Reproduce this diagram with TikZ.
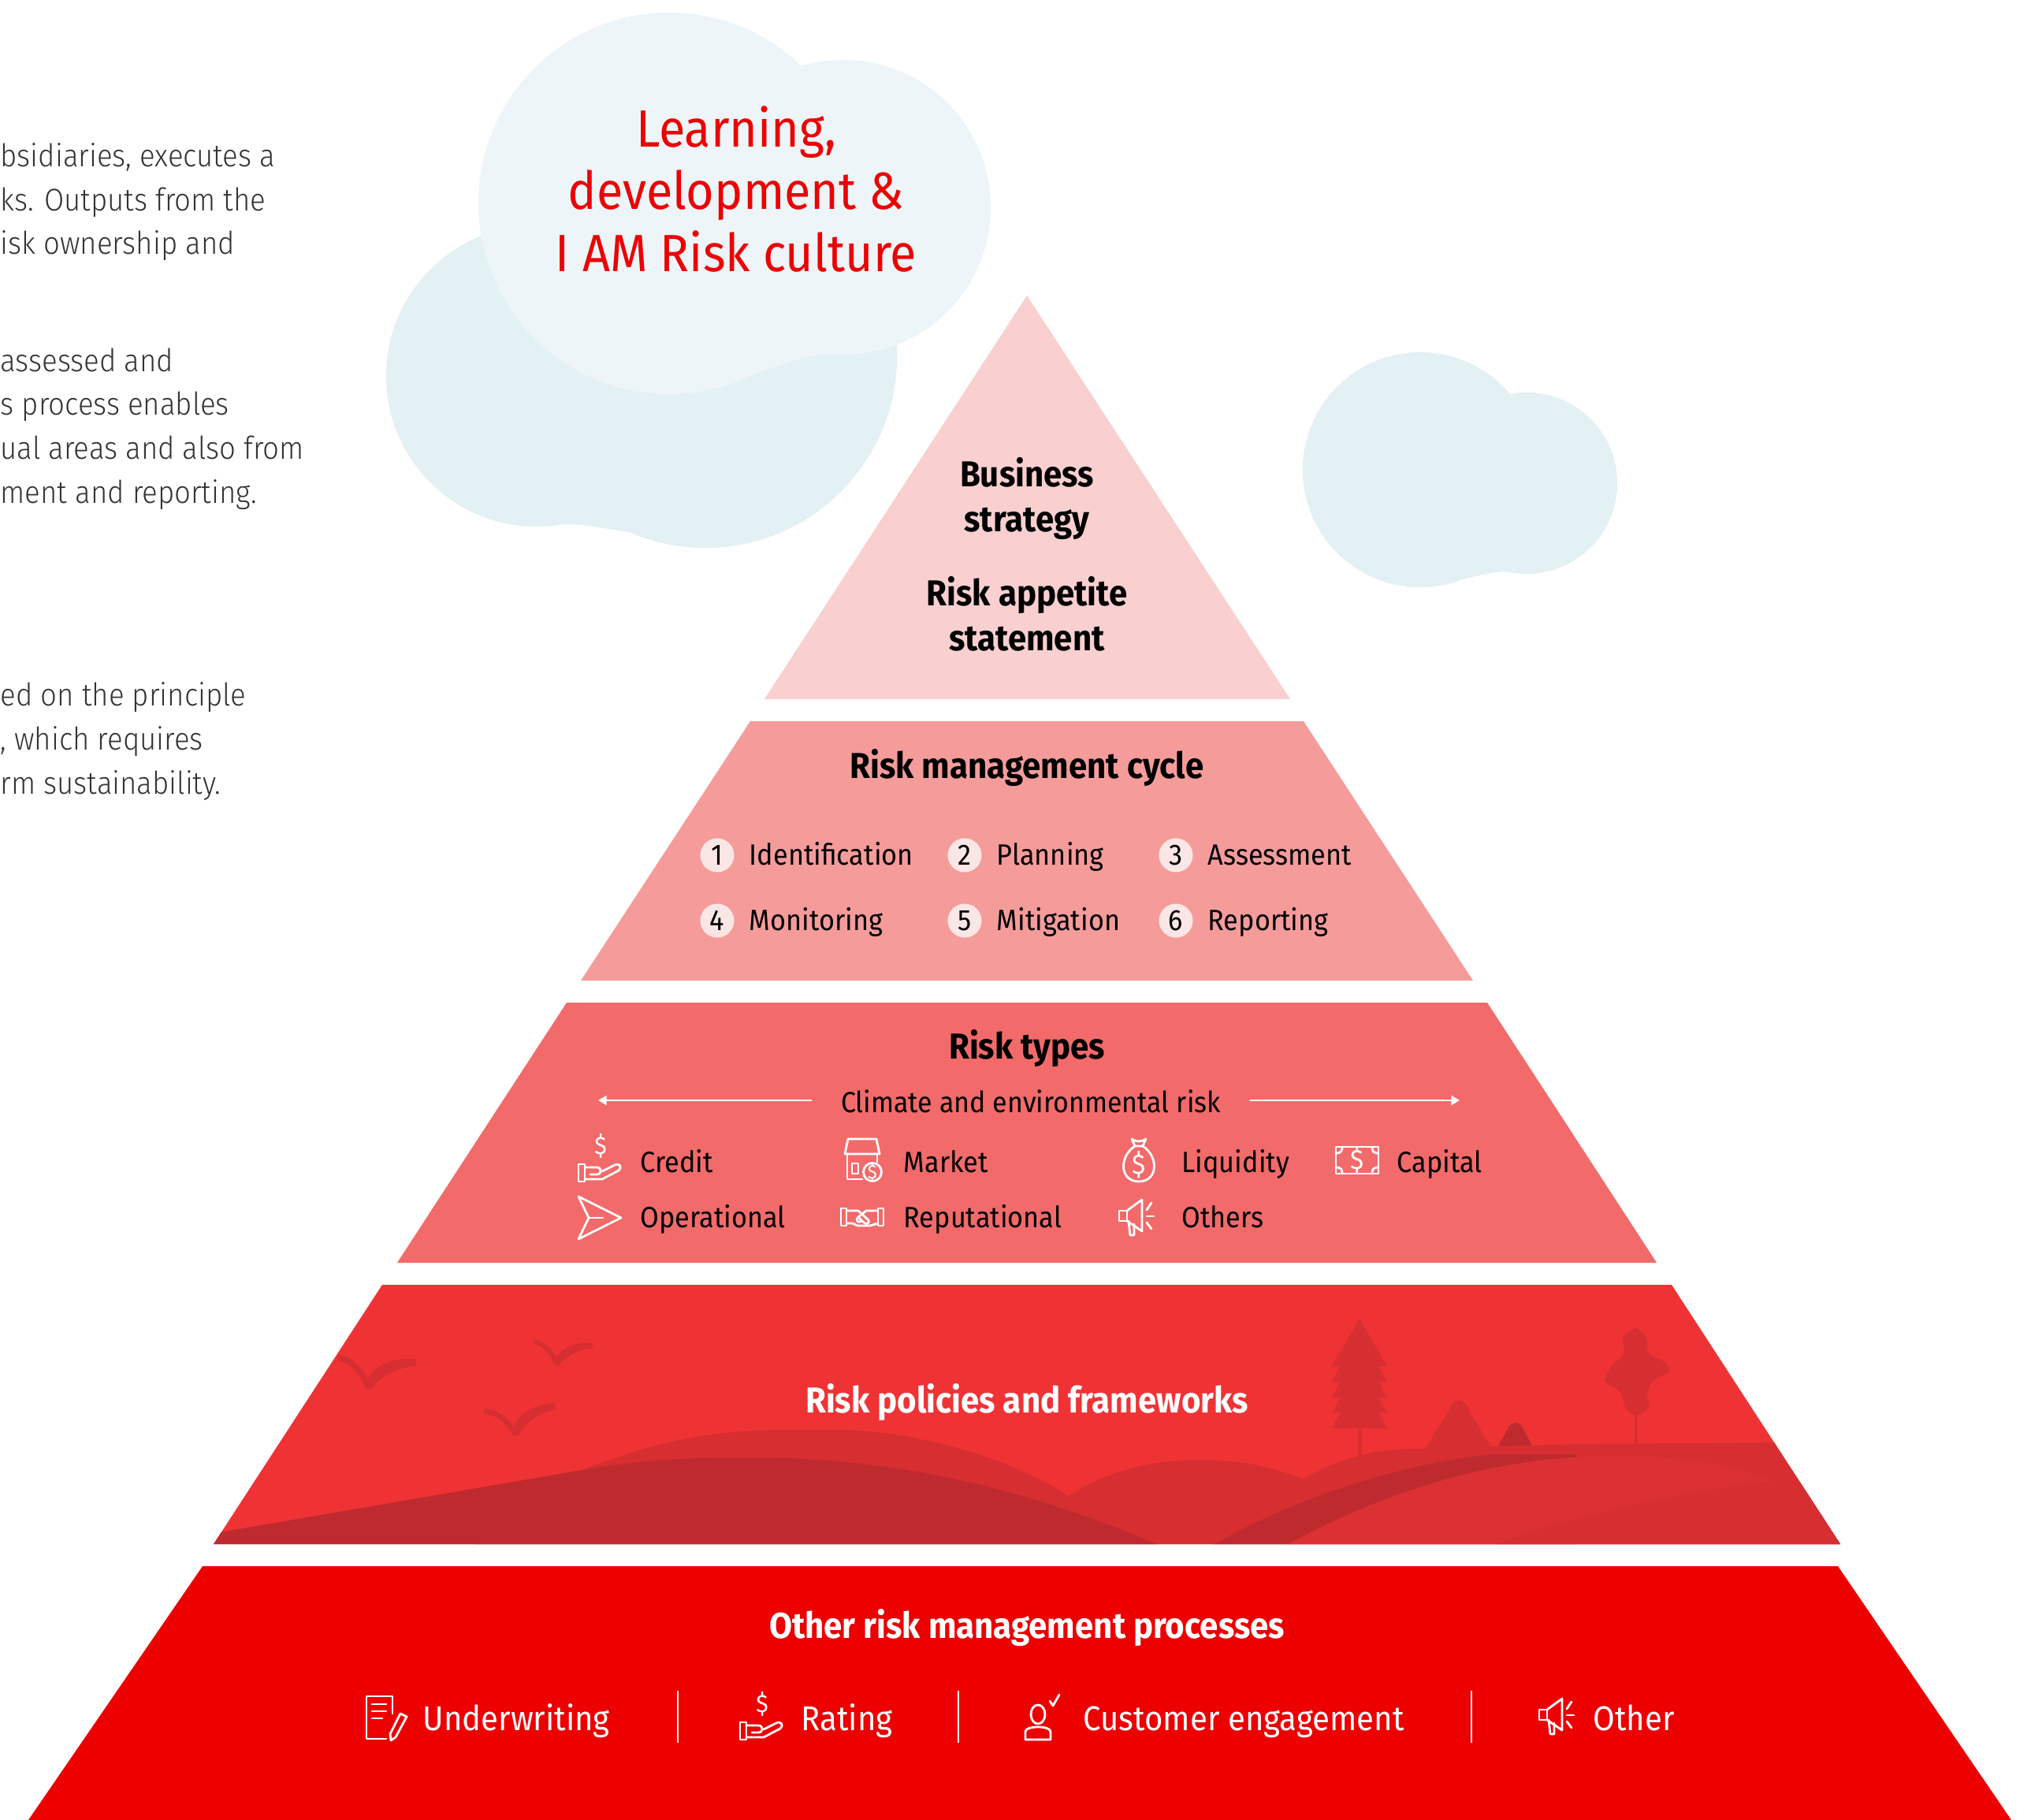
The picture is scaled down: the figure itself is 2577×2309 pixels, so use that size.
\documentclass[tikz,border=0pt]{standalone}
\usepackage{fontspec}
\setmainfont{Fira Sans}[FakeStretch=0.92]
\newfontfamily\thinfont{Fira Sans Light}[FakeStretch=0.92]
\usetikzlibrary{arrows.meta}

\definecolor{tierA}{HTML}{F9CFD0}
\definecolor{tierB}{HTML}{F59C9B}
\definecolor{tierC}{HTML}{F26A6A}
\definecolor{tierD}{HTML}{EF3335}
\definecolor{tierE}{HTML}{EC0000}
\definecolor{cloudfront}{HTML}{EDF5F9}
\definecolor{cloudback}{HTML}{E3F0F4}
\definecolor{hillmid}{HTML}{D72E31}
\definecolor{hilldark}{HTML}{BF2A2E}
\definecolor{hilllight}{HTML}{DC3134}
\definecolor{numfill}{HTML}{FBE6E6}
\definecolor{bodytext}{HTML}{333333}

\tikzset{
  head/.style={font=\fontsize{13}{16}\selectfont\bfseries, anchor=base, inner sep=0pt, align=center},
  item/.style={font=\fontsize{10.6}{12}\selectfont, anchor=base west, inner sep=0pt},
  proc/.style={font=\fontsize{12.4}{14}\selectfont, anchor=base west, inner sep=0pt, text=white},
  num/.style={circle, fill=numfill, minimum size=0.43cm, inner sep=0pt, font=\fontsize{10.6}{12}\selectfont},
  para/.style={font=\thinfont\fontsize{11.3}{15.8}\selectfont, anchor=base west, inner sep=0pt, align=left, text=bodytext},
  icon/.style={draw=white, line width=0.8pt, line join=round, line cap=round},
  dollar/.style={text=white, inner sep=0pt, font=\fontsize{#1}{#1}\selectfont},
  bird/.style={fill=hillmid},
  % line icons, drawn round their centre
  credit/.pic={
    \node[dollar=9] at (1,-18) {\$};
    \draw[icon] (-27,5) rectangle (-19,27);
    \draw[icon] (-19,9) -- (-4,9) .. controls (3,9) and (3,18) .. (-4,18) -- (-12,18);
    \draw[icon] (-19,24) -- (3,24) -- (24,13) .. controls (29,9) and (25,3) .. (19,6) -- (3,14);
  },
  market/.pic={
    \draw[icon] (-18,-27) -- (18,-27) -- (22,-8) -- (-22,-8) -- cycle;
    \draw[icon] (-19,-8) -- (-19,24) -- (0,24);
    \draw[icon] (19,-8) -- (19,2);
    \draw[icon] (-13,4) rectangle (-5,17);
    \draw[icon] (13,15) circle[radius=0.115cm];
    \node[dollar=7] at (13,15) {\$};
  },
  operational/.pic={
    \draw[icon] (-27,-27) -- (27,0) -- (-27,27) -- (-14,0) -- cycle;
    \draw[icon] (-14,0) -- (4,0);
  },
  reputational/.pic={
    \draw[icon] (-27,-11) rectangle (-20,11);
    \draw[icon] (20,-11) rectangle (27,11);
    \draw[icon] (-20,-8) -- (-5,-8) -- (8,4) .. controls (10,8) and (5,10) .. (2,7) -- (-4,1);
    \draw[icon] (20,-8) -- (5,-8) -- (-6,1) .. controls (-9,5) and (-4,8) .. (-1,5);
    \draw[icon] (-20,8) -- (-12,8) -- (-6,11) -- (10,11) -- (20,8);
  },
  liquidity/.pic={
    \draw[icon] (-9,-27) .. controls (-3,-23) and (3,-23) .. (9,-27) -- (5,-18) -- (-5,-18) -- cycle;
    \draw[icon] (-5,-18) .. controls (-26,-4) and (-24,27) .. (0,27) .. controls (24,27) and (26,-4) .. (5,-18);
    \node[dollar=10] at (0,6) {\$};
  },
  capital/.pic={
    \draw[icon] (-27,-17) rectangle (27,17);
    \draw[icon] (-27,-9) .. controls (-20,-9) and (-19,-12) .. (-19,-17);
    \draw[icon] (27,-9) .. controls (20,-9) and (19,-12) .. (19,-17);
    \draw[icon] (-27,9) .. controls (-20,9) and (-19,12) .. (-19,17);
    \draw[icon] (27,9) .. controls (20,9) and (19,12) .. (19,17);
    \node[dollar=10] at (0,0) {\$};
  },
  others/.pic={
    \draw[icon] (-25,-9) rectangle (-15,4);
    \draw[icon] (-15,-9) -- (4,-23) -- (4,17) -- (-15,4);
    \draw[icon] (-13,4) -- (-11,22) -- (-6,22) -- (-6,8);
    \draw[icon] (10,-10) -- (16,-19);
    \draw[icon] (10,-2) -- (19,-2);
    \draw[icon] (10,6) -- (16,14);
  },
  underwriting/.pic={
    \draw[icon] (8,-6) -- (8,-28) -- (-25,-28) -- (-25,26) -- (0,26);
    \draw[icon] (-18,-18) -- (0,-18);
    \draw[icon] (-18,-9) -- (0,-9);
    \draw[icon] (-18,0) -- (-5,0);
    \draw[icon] (18,-6) -- (26,-2) -- (12,24) -- (6,28) -- (5,20) -- cycle;
  },
  customer/.pic={
    \draw[icon] (-9,-5) ellipse[x radius=0.09cm, y radius=0.12cm];
    \draw[icon] (-25,27) -- (-25,17) .. controls (-25,9) and (7,9) .. (7,17) -- (7,27) -- cycle;
    \draw[icon] (6,-22) -- (10,-16) -- (18,-30);
  },
  % a gull: two tapered wings meeting at a point
  gull/.pic={
    \fill[bird] (-40,-37) .. controls (-20,-34) and (-8,-18) .. (-1,-6)
      .. controls (8,-23) and (30,-33) .. (60,-31) -- (60,-22) .. controls (35,-20) and (14,-8) .. (3,7)
      -- (-4,7) .. controls (-11,-10) and (-22,-26) .. (-40,-29) -- cycle;
  },
}

\begin{document}
\begin{tikzpicture}[x=0.01cm, y=-0.01cm]
\useasboundingbox (0,0) rectangle (2577,2309);
\clip (0,0) rectangle (2577,2309);

% running text on the left (base = last line)
\node[para] (parA) at (0,323) {bsidiaries, executes a\\ks. Outputs from the\\isk ownership and};
\node[para] (parB) at (0,638) {assessed and\\s process enables\\ual areas and also from\\ment and reporting.};
\node[para] (parC) at (0,1007) {ed on the principle\\, which requires\\rm sustainability.};

% clouds
\fill[cloudback] (681,477) circle[radius=1.91cm];
\fill[cloudback] (895,452) circle[radius=2.43cm];
\fill[cloudback] (715,600) -- (715,665) .. controls (745,665) and (775,672) .. (805,676) -- (805,600) -- cycle;
\fill[cloudfront] (849,258) circle[radius=2.42cm];
\fill[cloudfront] (1070,263) circle[radius=1.87cm];
\fill[cloudfront] (940,400) -- (940,480) .. controls (990,464) and (1020,451) .. (1049,450) -- (1049,400) -- cycle;
\fill[cloudback] (1802,596) circle[radius=1.49cm];
\fill[cloudback] (1937,613) circle[radius=1.15cm];
\fill[cloudback] (1850,650) -- (1850,737) .. controls (1875,730) and (1895,725) .. (1915,725) -- (1915,650) -- cycle;

\node[anchor=base, inner sep=0pt, align=center, text=tierE,
      font=\fontsize{18.9}{22.6}\selectfont] (culture) at (934,345)
      {Learning,\\development \&\\I AM Risk culture};

% pyramid tiers
\fill[tierA] (1303,375) -- (1637,887) -- (970,887) -- cycle;
\fill[tierB] (952,915) -- (1654,915) -- (1869,1244) -- (737,1244) -- cycle;
\fill[tierC] (719,1272) -- (1887,1272) -- (2102,1602) -- (504,1602) -- cycle;
\fill[tierD] (485,1630) -- (2121,1630) -- (2335,1959) -- (271,1959) -- cycle;
\fill[tierE] (257,1987) -- (2332,1987) -- (2552,2309) -- (36,2309) -- cycle;

% landscape in the fourth tier
\begin{scope}
  \clip (485,1630) -- (2121,1630) -- (2335,1959) -- (271,1959) -- cycle;
  \pic at (468,1755) {gull};
  \pic[scale=0.75] at (707,1727) {gull};
  \pic[rotate=8, scale=0.9] at (654,1815) {gull};
  \fill[hillmid] (1725,1673) -- (1760,1733) -- (1749,1733) -- (1760,1753) -- (1749,1753) -- (1760,1773) -- (1749,1773)
    -- (1760,1792) -- (1749,1792) -- (1760,1812) -- (1690,1812) -- (1701,1792) -- (1690,1792) -- (1701,1773)
    -- (1690,1773) -- (1701,1753) -- (1690,1753) -- (1701,1733) -- (1690,1733) -- cycle;
  \fill[hillmid] (1723,1810) rectangle (1728,1860);
  \fill[hillmid] plot[smooth cycle] coordinates {(2075,1685) (2089,1697) (2092,1717) (2112,1728) (2118,1740)
    (2097,1752) (2090,1770) (2093,1785) (2077,1796) (2063,1787) (2055,1765) (2036,1752) (2045,1733) (2060,1718) (2060,1697)};
  \fill[hillmid] (2074,1790) rectangle (2078,1840);
  \fill[hillmid] (1804,1845) -- (1838,1790) .. controls (1843,1772) and (1859,1772) .. (1864,1790) -- (1897,1845) -- cycle;
  \fill[hilldark] (1889,1855) -- (1912,1815) .. controls (1916,1802) and (1930,1802) .. (1934,1815) -- (1952,1850) -- cycle;
  \fill[hillmid] (600,1960) -- (744,1863) .. controls (830,1830) and (900,1814) .. (1000,1814) -- (1071,1814)
    .. controls (1180,1818) and (1290,1855) .. (1356,1898) .. controls (1400,1868) and (1460,1852) .. (1519,1852)
    .. controls (1575,1852) and (1620,1862) .. (1653,1877) .. controls (1700,1850) and (1740,1838) .. (1801,1838)
    -- (2000,1832) -- (2400,1829) -- (2400,1960) -- cycle;
  \fill[hilldark] (250,1949) -- (750,1863) .. controls (820,1852) and (880,1849) .. (950,1849)
    .. controls (1160,1849) and (1330,1900) .. (1475,1962) -- (250,1962) -- cycle;
  \fill[hilldark] (1536,1962) .. controls (1650,1895) and (1800,1852) .. (1900,1845) -- (2000,1845) -- (2000,1962) -- cycle;
  \fill[hilllight] (1629,1962) .. controls (1760,1890) and (1900,1847) .. (2049,1847)
    .. controls (2140,1847) and (2200,1860) .. (2250,1880) -- (2400,1880) -- (2400,1962) -- cycle;
  \fill[hillmid] (1890,1962) .. controls (2000,1920) and (2150,1890) .. (2245,1880) -- (2400,1880) -- (2400,1962) -- cycle;
\end{scope}

% tier 1
\node[head] (biz) at (1303,674) {Business\\strategy};
\node[head] (appetite) at (1303,825) {Risk appetite\\statement};

% tier 2
\node[head] (cycle) at (1303,987) {Risk management cycle};
\foreach \n/\x/\y/\lbl in {1/910/1097/Identification, 2/1224/1097/Planning, 3/1492/1097/Assessment,
                         4/910/1180/Monitoring, 5/1224/1180/Mitigation, 6/1492/1180/Reporting} {
  \node[num] (n\n) at (\x,\y-12) {\n};
  \node[item] (step\n) at (\x+40,\y) {\lbl};
}

% tier 3
\node[head] (types) at (1303,1343) {Risk types};
\node[font=\fontsize{10.5}{12}\selectfont, anchor=base, inner ysep=0pt, inner xsep=0.36cm] (climate) at (1308,1411)
     {Climate and environmental risk};
\coordinate (climL) at (759,1396);
\coordinate (climR) at (1852,1396);
\draw[white, line width=0.6pt, -{Triangle[length=3pt, width=3.4pt]}] (climate.west |- climL) -- (climL);
\draw[white, line width=0.6pt, -{Triangle[length=3pt, width=3.4pt]}] (climate.east |- climR) -- (climR);

\pic at (761,1472) {credit};
\node[item] (credit) at (812,1487) {Credit};
\pic at (1094,1472) {market};
\node[item] (market) at (1146,1487) {Market};
\pic at (1445,1472) {liquidity};
\node[item] (liquidity) at (1499,1487) {Liquidity};
\pic at (1722,1472) {capital};
\node[item] (capital) at (1772,1487) {Capital};
\pic at (761,1545) {operational};
\node[item] (operational) at (812,1557) {Operational};
\pic at (1094,1544) {reputational};
\node[item] (reputational) at (1146,1557) {Reputational};
\pic at (1445,1545) {others};
\node[item] (othertypes) at (1499,1557) {Others};

% tier 4
\node[head, text=white] (policies) at (1303,1792) {Risk policies and frameworks};

% tier 5
\node[head, text=white] (processes) at (1303,2078) {Other risk management processes};
\pic at (490,2180) {underwriting};
\node[proc] (underwriting) at (536,2195) {Underwriting};
\pic at (966,2180) {credit};
\node[proc] (rating) at (1016,2195) {Rating};
\pic at (1326,2180) {customer};
\node[proc] (engagement) at (1374,2195) {Customer engagement};
\pic at (1978,2178) {others};
\node[proc] (otherproc) at (2021,2195) {Other};
\foreach \x in {860,1216,1867}
  \draw[white, line width=0.5pt] (\x,2145) -- (\x,2211);

\end{tikzpicture}
\end{document}
